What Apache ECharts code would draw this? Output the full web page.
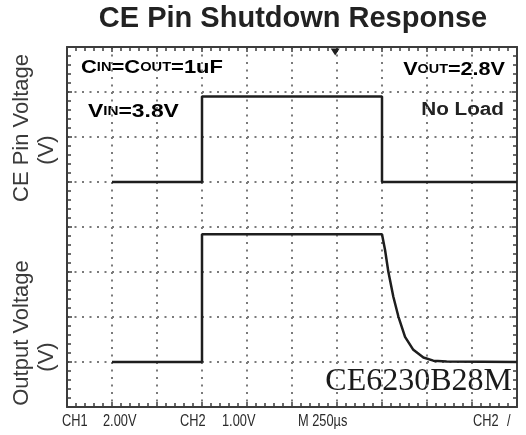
<!DOCTYPE html>
<html>
<head>
<meta charset="utf-8">
<script src="https://cdn.jsdelivr.net/npm/echarts@6/dist/echarts.min.js"></script>
<style>
html, body { margin: 0; padding: 0; background: #fff; }
#chart { width: 526px; height: 435px; }
</style>
</head>
<body>
<div id="chart"></div>
<script>
// time axis in us (250us/div), CE channel 2V/div, output channel 1V/div
var ceTime = [250, 750, 750, 1750, 1750, 2500];
var ceVolt = [0, 0, 3.8, 3.8, 0, 0];
var outTime = [250, 750, 750, 1750, 1767, 1785, 1813, 1841, 1878, 1924, 1980, 2035, 2109, 2500];
var outVolt = [0, 0, 2.84, 2.84, 2.49, 2.01, 1.45, 1.01, 0.56, 0.27, 0.10, 0.03, 0.01, 0];
var triggerTime = [1490];
var bottomLabels = ['CH1', '2.00V', 'CH2', '1.00V', 'M 250\u00b5s', 'CH2', '/'];

function pairs(xs, ys) {
    return xs.map(function (x, i) { return [x, ys[i]]; });
}

var chart = echarts.init(document.getElementById('chart'));

var edge = '#3c3c3c';
var box = { left: 67, top: 47, width: 450, height: 360, containLabel: false };

// hidden data axes (one x and one y per grid)
function dataAxis(gi, min, max, step) {
    return {
        gridIndex: gi, type: 'value', min: min, max: max, interval: step,
        axisLine: { show: false, onZero: false }, axisTick: { show: false },
        axisLabel: { show: false }, splitLine: { show: false }
    };
}
// scope frame axes in divisions: ruler ticks inward, dotted graticule
function frameAxis(gi, pos, max, dots) {
    return {
        gridIndex: gi, type: 'value', min: 0, max: max, interval: 1, position: pos,
        axisLine: { show: true, onZero: false, lineStyle: { color: edge, width: 2 } },
        axisTick: { show: true, inside: true, length: 5, lineStyle: { color: edge, width: 1.5 } },
        minorTick: { show: true, splitNumber: 5, length: 4, lineStyle: { color: edge, width: 1.5 } },
        axisLabel: { show: false },
        splitLine: { show: true, lineStyle: { color: '#7a7a7a', width: 2, type: [2, 5.5], opacity: dots ? 1 : 0 } }
    };
}

var sideFont = { fontFamily: 'Liberation Sans, Arial, sans-serif', fontSize: 22, fill: '#3a3a3a' };
var noteRich = {
    b: { fontSize: 18, fontWeight: 'bold', fontFamily: 'Liberation Sans, Arial, sans-serif', color: '#3a3a3a' },
    s: { fontSize: 12, fontWeight: 'bold', fontFamily: 'Liberation Sans, Arial, sans-serif', color: '#3a3a3a' }
};
var bottomX = [62, 103, 180, 222, 298, 473, 507];

var graphics = [
    { type: 'text', x: 293, y: 19, style: { text: 'CE Pin Shutdown Response', font: 'bold 29px "Liberation Sans", Arial, sans-serif', fill: '#222', align: 'center', verticalAlign: 'middle' } },
    { type: 'text', x: 22, y: 128, rotation: Math.PI / 2, style: Object.assign({ text: 'CE Pin Voltage', align: 'center', verticalAlign: 'middle' }, sideFont) },
    { type: 'text', x: 47, y: 150, rotation: Math.PI / 2, style: Object.assign({ text: '(V)', align: 'center', verticalAlign: 'middle' }, sideFont) },
    { type: 'text', x: 22, y: 333, rotation: Math.PI / 2, style: Object.assign({ text: 'Output Voltage', align: 'center', verticalAlign: 'middle' }, sideFont) },
    { type: 'text', x: 47, y: 357, rotation: Math.PI / 2, style: Object.assign({ text: '(V)', align: 'center', verticalAlign: 'middle' }, sideFont) },
    { type: 'text', x: 81, y: 68, scaleX: 1.22, style: { text: '{b|C}{s|IN}{b|=C}{s|OUT}{b|=1uF}', rich: noteRich, verticalAlign: 'middle' } },
    { type: 'text', x: 88, y: 112, scaleX: 1.27, style: { text: '{b|V}{s|IN}{b|=3.8V}', rich: noteRich, verticalAlign: 'middle' } },
    { type: 'text', x: 505, y: 70, scaleX: 1.2, style: { text: '{b|V}{s|OUT}{b|=2.8V}', rich: noteRich, align: 'right', verticalAlign: 'middle' } },
    { type: 'text', x: 504, y: 110, scaleX: 1.15, style: { text: 'No Load', font: 'bold 18px "Liberation Sans", Arial, sans-serif', fill: '#222', align: 'right', verticalAlign: 'middle' } },
    { type: 'text', x: 512, y: 382, style: { text: 'CE6230B28M', font: '32px "Liberation Serif", "Times New Roman", serif', fill: '#1a1a1a', align: 'right', verticalAlign: 'middle', backgroundColor: '#fff' } }
];
bottomLabels.forEach(function (t, i) {
    graphics.push({ type: 'text', x: bottomX[i], y: 422, scaleX: 0.8, style: { text: t, font: '16px "Liberation Sans", Arial, sans-serif', fill: '#2a2a2a', verticalAlign: 'middle' } });
});

var option = {
    animation: false,
    backgroundColor: '#fff',
    grid: [box, box, box, box],
    xAxis: [
        dataAxis(0, 0, 2500, 250),
        dataAxis(1, 0, 2500, 250),
        frameAxis(2, 'bottom', 10, true),
        frameAxis(3, 'top', 10, false)
    ],
    yAxis: [
        dataAxis(0, -10, 6, 2),
        dataAxis(1, -1, 7, 1),
        frameAxis(2, 'left', 8, true),
        frameAxis(3, 'right', 8, false)
    ],
    graphic: graphics,
    series: [
        {
            name: 'CE Pin', type: 'line', xAxisIndex: 0, yAxisIndex: 0,
            data: pairs(ceTime, ceVolt), symbol: 'none', z: 3,
            lineStyle: { color: '#1e1e1e', width: 2.5 },
            markPoint: {
                symbol: 'triangle', symbolSize: [9, 7], symbolRotate: 180, symbolOffset: [0, 5],
                itemStyle: { color: '#1e1e1e' }, label: { show: false },
                data: [{ coord: [triggerTime[0], 6] }]
            }
        },
        {
            name: 'Output', type: 'line', xAxisIndex: 1, yAxisIndex: 1,
            data: pairs(outTime, outVolt), symbol: 'none', z: 3,
            lineStyle: { color: '#1e1e1e', width: 2.5 }
        }
    ]
};

chart.setOption(option);
</script>
</body>
</html>
